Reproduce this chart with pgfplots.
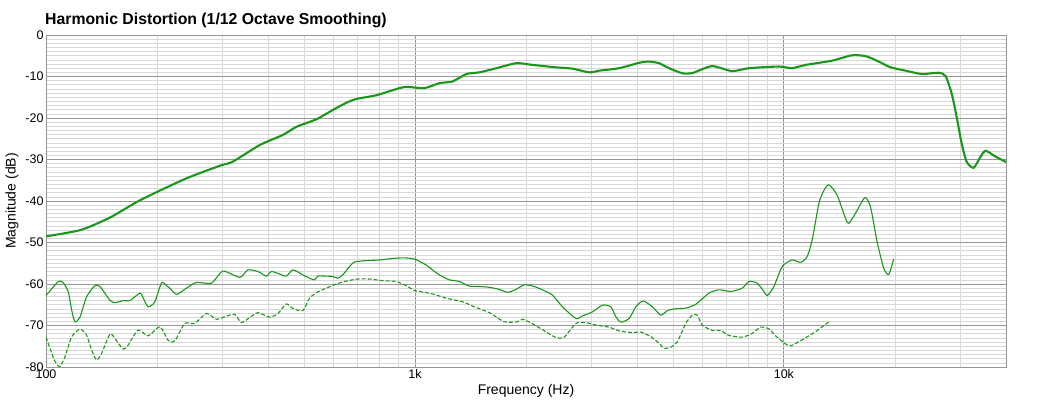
\documentclass[border=0pt]{standalone}
\usepackage{pgfplots}
\pgfplotsset{compat=1.18}
\usepackage{pgfplotstable}
\usepackage{fontspec}
\setmainfont{Liberation Sans}
\definecolor{curve}{RGB}{26,150,26}
\definecolor{majgrid}{RGB}{150,150,150}
\definecolor{mingrid}{RGB}{216,216,216}

\pgfplotstableread{
f dB
100 -48.5
124 -47.0
149 -44.0
180 -39.8
238 -34.7
296 -31.5
321 -30.5
380 -26.5
438 -24.1
478 -22.1
541 -20.3
598 -18.1
653 -16.3
695 -15.4
787 -14.5
908 -12.8
954 -12.5
1061 -12.8
1165 -11.6
1264 -11.2
1379 -9.4
1495 -9.0
1662 -8.0
1883 -6.8
2080 -7.2
2415 -7.8
2669 -8.1
2967 -9.0
3158 -8.6
3577 -8.0
4052 -6.7
4311 -6.4
4588 -6.8
4884 -8.0
5297 -9.2
5636 -9.2
6386 -7.5
7233 -8.7
8041 -8.0
9694 -7.6
10510 -8.0
11470 -7.2
13490 -6.2
15280 -4.9
16670 -5.1
18070 -6.4
19480 -7.8
21390 -8.6
23640 -9.4
26270 -9.1
27440 -9.9
28490 -14.1
29390 -19.7
30320 -26.1
31280 -30.5
32670 -32.0
34140 -29.3
35220 -27.9
37480 -29.3
40000 -30.6
}\fundamental

\pgfplotstableread{
f dB
100 -62.8
108 -59.4
111.4 -59.7
114.9 -61.9
117.4 -66.3
119.8 -69.1
123.6 -68.0
128.8 -63.1
135.7 -60.4
140.0 -60.6
149.0 -63.9
153.7 -64.5
161.9 -64.0
168.8 -64.0
179.7 -62.2
183.4 -63.4
189.2 -65.5
197.2 -64.3
205.7 -59.7
212.2 -60.4
216.6 -61.0
225.8 -62.5
240.3 -61.0
255.7 -59.6
280.8 -59.8
301.8 -56.9
335.0 -58.4
352.8 -56.6
375.5 -57.0
395.7 -58.1
408.2 -57.0
429.8 -57.6
448.1 -58.1
467.0 -56.6
497.0 -57.8
518.0 -58.6
534.6 -59.0
545.7 -58.1
575.0 -58.1
599.1 -58.2
618.0 -58.6
637.6 -57.8
664.7 -55.8
685.7 -54.7
730 -54.4
801.6 -54.2
880 -53.8
936.6 -53.7
996.8 -54.0
1072 -55.4
1115 -56.6
1165 -57.8
1240 -59.0
1320 -59.4
1404 -60.5
1495 -60.6
1591 -60.8
1693 -61.3
1783 -62.0
1879 -61.3
1979 -60.2
2106 -60.6
2241 -61.6
2360 -62.7
2512 -65.5
2731 -68.3
2846 -67.7
3029 -66.7
3223 -65.1
3396 -65.5
3504 -67.9
3614 -69.2
3807 -68.3
3970 -65.5
4154 -64.1
4402 -65.5
4638 -67.5
4833 -66.4
5039 -66.0
5420 -65.8
5768 -64.9
6266 -62.2
6671 -61.4
7173 -61.8
7713 -61.0
8041 -59.4
8467 -59.8
8830 -61.8
9013 -62.8
9396 -60.6
9894 -55.8
10530 -54.2
11100 -54.8
11560 -53.4
11930 -49.4
12440 -40.6
12830 -37.5
13240 -36.1
13940 -38.6
14690 -44.2
14990 -45.4
15630 -43.0
16570 -39.2
17170 -41.4
17890 -49.8
18650 -56.2
19240 -57.7
19850 -54.0
}\second

\pgfplotstableread{
f dB
100 -72.8
102.5 -75.5
105.8 -78.7
109.1 -79.9
112.6 -77.5
117.4 -72.7
123.6 -70.9
128.8 -72.3
132.9 -75.9
137.1 -78.3
141.5 -76.7
149.0 -72.1
153.7 -73.1
161.9 -75.7
167.0 -74.7
177.7 -71.1
189.2 -72.5
203.5 -70.3
213.9 -73.5
219.3 -74.0
224.8 -73.4
237.8 -69.5
253.0 -69.5
272.2 -67.1
289.7 -68.5
305.1 -67.9
324.7 -67.3
338.5 -69.3
356.5 -68.1
375.5 -66.9
404.0 -68.0
425.3 -67.1
448.1 -64.8
467.0 -65.9
497.0 -66.4
518.0 -63.4
545.7 -61.9
575.0 -61.0
611.9 -60.0
651.3 -59.3
700.3 -58.8
753.0 -58.8
818.3 -59.2
889.4 -59.4
946.7 -60.4
996.8 -61.6
1028 -61.8
1117 -62.4
1215 -63.4
1347 -64.3
1449 -65.5
1591 -66.9
1747 -69.1
1897 -69.1
1958 -68.5
2084 -69.6
2265 -71.5
2410 -72.9
2539 -72.8
2731 -69.5
2906 -69.3
3093 -69.9
3360 -70.4
3577 -71.3
3886 -71.7
4095 -71.6
4359 -72.7
4588 -74.3
4733 -75.5
4936 -75.2
5143 -73.9
5420 -69.5
5647 -67.5
5825 -67.5
6010 -69.9
6397 -71.2
6741 -71.2
7099 -72.4
7713 -72.8
8207 -71.9
8648 -70.4
9108 -70.8
9495 -72.5
10320 -74.9
10980 -73.9
12180 -71.5
13240 -69.1
}\third

\begin{document}
\begin{tikzpicture}[x=1pt,y=1pt]
\useasboundingbox (0,0) rectangle (1039,406);
\begin{axis}[
  at={(46pt,39pt)}, anchor=south west,
  scale only axis, width=960pt, height=332pt,
  xmode=log, xmin=100, xmax=40000,
  ymin=-80, ymax=0,
  xtick={100,1000,10000}, xticklabels={100,1k,10k},
  minor xtick={200,300,400,500,600,700,800,900,2000,3000,4000,5000,6000,7000,8000,9000,20000,30000},
  ytick={-80,-70,-60,-50,-40,-30,-20,-10,0},
  yticklabels={-80,-70,-60,-50,-40,-30,-20,-10,0},
  minor ytick={-79,-78,...,-1},
  grid=both,
  major grid style={color=majgrid, line width=0.8pt},
  minor grid style={color=mingrid, line width=0.6pt},
  axis line style={color=majgrid, line width=0.8pt},
  major tick length=0pt, minor tick length=0pt,
  tick style={draw=none},
  ticklabel style={font=\fontsize{12.5}{14}\selectfont},
  xticklabel style={yshift=1pt},
  yticklabel style={xshift=1pt},
  xlabel={Frequency (Hz)},
  ylabel={Magnitude (dB)},
  label style={font=\fontsize{14}{16}\selectfont},
  xlabel style={at={(rel axis cs:0.5,0)}, anchor=center, yshift=-24pt},
  ylabel style={at={(rel axis cs:0,0.5)}, anchor=center, yshift=34pt},
  title={Harmonic Distortion (1/12 Octave Smoothing)},
  title style={at={(rel axis cs:0,1)}, anchor=base west, inner sep=0pt, yshift=4.5pt, xshift=-1pt, font=\bfseries\fontsize{15.8}{18}\selectfont},
  clip=true,
]
\addplot[color=curve, line width=2.1pt, smooth, tension=0.4] table[x=f,y=dB] {\fundamental};
\addplot[color=curve, line width=1.1pt, smooth, tension=0.4] table[x=f,y=dB] {\second};
\addplot[color=curve, line width=1.1pt, smooth, tension=0.4, dash pattern=on 4pt off 2pt] table[x=f,y=dB] {\third};
\end{axis}
\end{tikzpicture}
\end{document}
